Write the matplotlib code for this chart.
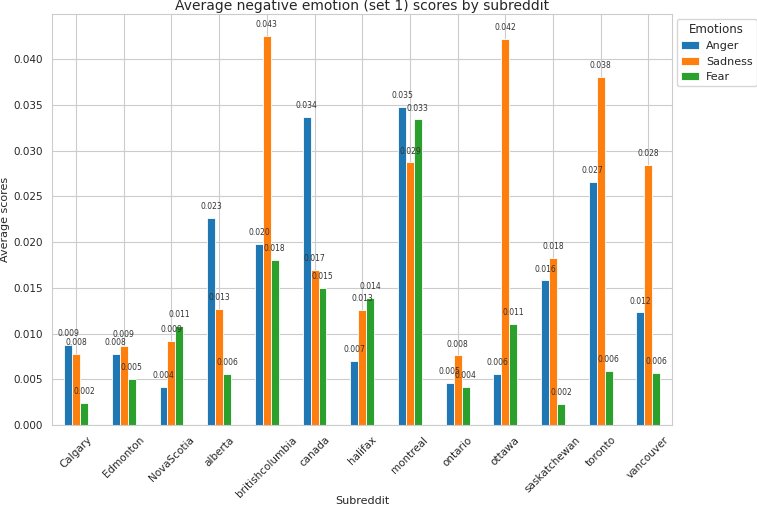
import numpy as np
import matplotlib
matplotlib.use("Agg")
import matplotlib.pyplot as plt
import seaborn as sns

subreddits = ["Calgary", "Edmonton", "NovaScotia", "alberta", "britishcolumbia", "canada",
              "halifax", "montreal", "ontario", "ottawa", "saskatchewan", "toronto", "vancouver"]
anger = [0.0087, 0.0078, 0.0042, 0.0226, 0.0198, 0.0337, 0.0070, 0.0348, 0.0046, 0.0056, 0.0158, 0.0266, 0.0123]
sadness = [0.0078, 0.0086, 0.0092, 0.0127, 0.0425, 0.0169, 0.0126, 0.0287, 0.0076, 0.0422, 0.0183, 0.0380, 0.0284]
fear = [0.0024, 0.0050, 0.0108, 0.0056, 0.0180, 0.0150, 0.0139, 0.0334, 0.0042, 0.0110, 0.0023, 0.0059, 0.0057]

series = [("Anger", anger, "#1f77b4"), ("Sadness", sadness, "#ff7f0e"), ("Fear", fear, "#2ca02c")]

sns.set_style("whitegrid")
fig, ax = plt.subplots(figsize=(7.57, 5.09), dpi=100)

x = np.arange(len(subreddits))
w = 0.5 / 3
for i, (name, vals, col) in enumerate(series):
    bars = ax.bar(x + (i - 1) * w, vals, w, color=col, label=name,
                  edgecolor="white", linewidth=0.6)
    ax.bar_label(bars, fmt="%.3f", fontsize=5.5, padding=5, color="#333333")

ax.set_xlim(-0.5, len(subreddits) - 0.5)
ax.set_ylim(0, 0.0449)
ax.set_xticks(x)
ax.set_xticklabels(subreddits, rotation=45, fontsize=7.5)
yt = np.arange(0, 0.0401, 0.005)
ax.set_yticks(yt)
ax.set_yticklabels(["%.3f" % v for v in yt], fontsize=7.5)
ax.set_title("Average negative emotion (set 1) scores by subreddit", fontsize=10, pad=3)
ax.set_xlabel("Subreddit", fontsize=8)
ax.xaxis.set_label_coords(0.5, -0.172)
ax.set_ylabel("Average scores", fontsize=8, labelpad=2)
ax.legend(title="Emotions", loc="upper left", bbox_to_anchor=(1.0, 1.0),
          fontsize=8, title_fontsize=8.5, borderaxespad=0.4,
          handlelength=1.7, handletextpad=0.6, borderpad=0.35)

fig.subplots_adjust(left=0.069, right=0.888, top=0.972, bottom=0.165)
fig.savefig("out.png", dpi=100)
